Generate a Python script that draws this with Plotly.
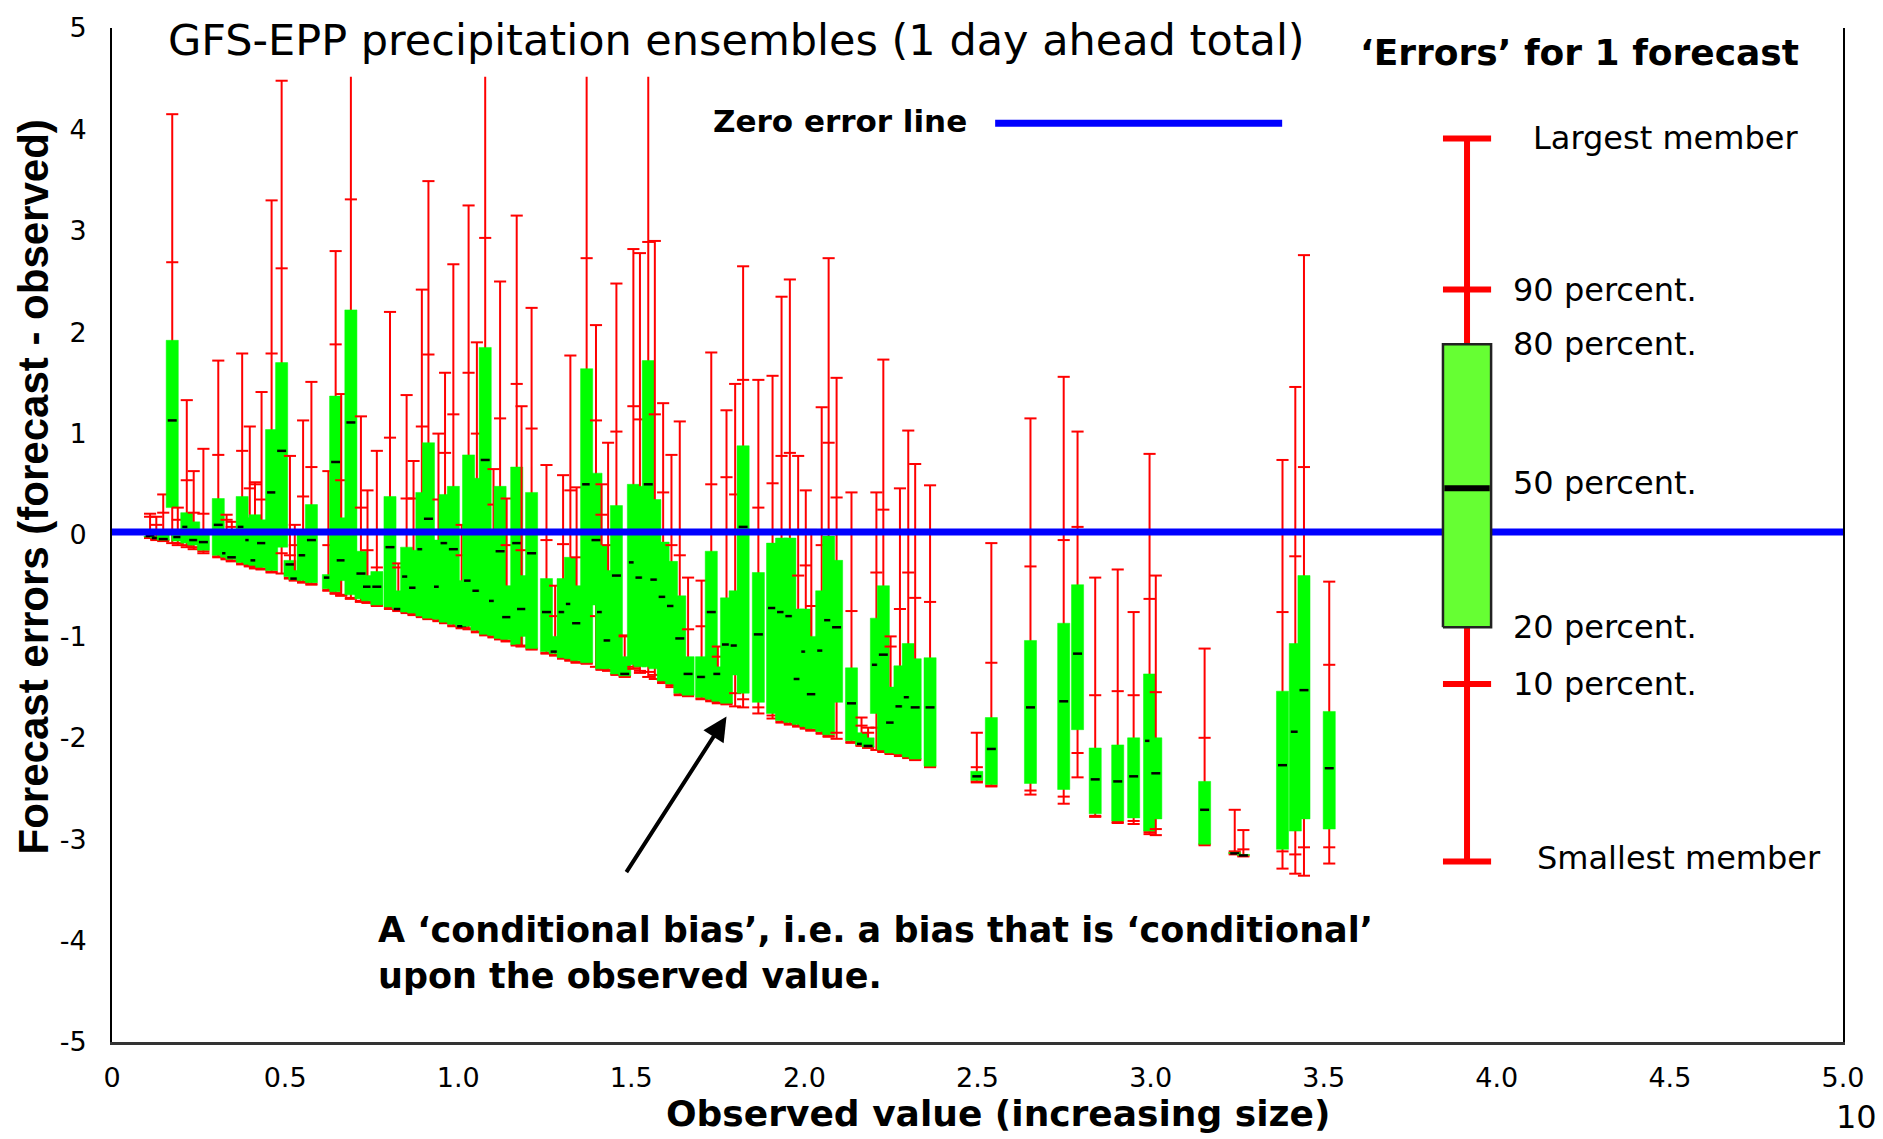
import plotly.graph_objects as go

# ---------------- data ----------------
OBSERVED = [0.110, 0.128, 0.148, 0.174, 0.190, 0.216, 0.236, 0.264, 0.307, 0.331,
            0.346, 0.376, 0.398, 0.413, 0.432, 0.461, 0.490, 0.514, 0.528, 0.552,
            0.576, 0.625, 0.646, 0.662, 0.690, 0.719, 0.738, 0.765, 0.803, 0.827,
            0.851, 0.871, 0.895, 0.914, 0.943, 0.962, 0.986, 1.010, 1.030, 1.054,
            1.078, 1.102, 1.121, 1.140, 1.169, 1.183, 1.212, 1.255, 1.280, 1.303,
            1.324, 1.342, 1.371, 1.398, 1.414, 1.433, 1.457, 1.481, 1.506, 1.525,
            1.549, 1.568, 1.592, 1.616, 1.640, 1.664, 1.703, 1.731, 1.750, 1.775,
            1.800, 1.823, 1.867, 1.908, 1.934, 1.958, 1.982, 2.004, 2.020, 2.050,
            2.070, 2.093, 2.136, 2.165, 2.184, 2.208, 2.228, 2.249, 2.276, 2.300,
            2.320, 2.363, 2.498, 2.540, 2.653, 2.749, 2.789, 2.840, 2.905, 2.951,
            2.997, 3.015, 3.156, 3.243, 3.268, 3.381, 3.418, 3.443, 3.516]

ERR_MIN = [-0.03, -0.05, -0.06, -0.08, -0.10, -0.12, -0.14, -0.18, -0.22, -0.24,
           -0.26, -0.29, -0.31, -0.33, -0.34, -0.37, -0.38, -0.43, -0.45, -0.47,
           -0.49, -0.55, -0.58, -0.60, -0.63, -0.66, -0.67, -0.70, -0.73, -0.75,
           -0.77, -0.79, -0.81, -0.83, -0.85, -0.87, -0.90, -0.92, -0.93, -0.96,
           -0.99, -1.01, -1.03, -1.05, -1.09, -1.10, -1.13, -1.17, -1.19, -1.22,
           -1.24, -1.26, -1.27, -1.30, -1.33, -1.34, -1.38, -1.40, -1.32, -1.36,
           -1.40, -1.42, -1.46, -1.50, -1.58, -1.59, -1.62, -1.64, -1.66, -1.67,
           -1.69, -1.70, -1.76, -1.81, -1.85, -1.87, -1.89, -1.91, -1.93, -1.96,
           -1.99, -2.01, -2.05, -2.08, -2.10, -2.12, -2.14, -2.16, -2.18, -2.20,
           -2.22, -2.29, -2.44, -2.48, -2.56, -2.65, -2.39, -2.78, -2.84, -2.85,
           -2.95, -2.96, -3.06, -3.15, -3.17, -3.29, -3.34, -3.36, -3.24]

ERR_P10 = [-0.02, -0.04, -0.05, 0.05, -0.08, -0.10, -0.12, -0.16, -0.21, -0.23,
           -0.25, -0.28, -0.30, -0.32, -0.33, -0.36, -0.18, -0.42, -0.44, -0.46,
           -0.48, -0.54, -0.57, -0.59, -0.62, -0.65, -0.66, -0.69, -0.72, -0.74,
           -0.76, -0.78, -0.80, -0.82, -0.84, -0.86, -0.89, -0.91, -0.92, -0.95,
           -0.98, -1.00, -1.02, -1.04, -1.08, -1.09, -1.12, -1.16, -1.18, -1.21,
           -1.23, -1.25, -1.26, -0.80, -1.32, -1.33, -1.37, -1.39, -1.30, -1.34,
           -1.35, -1.38, -1.45, -1.48, -1.57, -1.58, -1.61, -1.63, -1.65, -1.66,
           -1.56, -1.62, -1.70, -1.78, -1.84, -1.86, -1.88, -1.90, -1.92, -1.95,
           -1.98, -1.95, -2.04, -2.07, -2.09, -1.90, -2.13, -2.15, -2.17, -2.19,
           -2.21, -2.28, -2.43, -2.47, -2.52, -2.58, -2.15, -2.77, -2.83, -2.82,
           -2.93, -2.90, -3.05, -3.14, -3.16, -3.12, -3.15, -3.08, -3.08]

ERR_P20 = [-0.02, -0.03, -0.05, 0.27, -0.06, -0.08, -0.10, -0.15, -0.20, -0.22,
           -0.24, -0.27, -0.29, -0.30, -0.32, -0.35, -0.12, -0.41, -0.44, -0.45,
           -0.47, -0.53, -0.56, -0.45, -0.59, -0.63, -0.65, -0.69, -0.71, -0.73,
           -0.76, -0.77, -0.80, -0.82, -0.83, -0.86, -0.88, -0.90, -0.90, -0.94,
           -0.98, -0.99, -1.02, -1.03, -1.08, -1.00, -1.12, -1.15, -1.17, -1.21,
           -1.22, -1.24, -1.26, -0.69, -1.32, -1.32, -1.37, -1.39, -1.28, -1.30,
           -1.30, -1.32, -1.44, -1.47, -1.56, -1.58, -1.60, -1.62, -1.64, -1.66,
           -1.38, -1.56, -1.65, -1.76, -1.83, -1.85, -1.87, -1.89, -1.91, -1.94,
           -1.97, -1.65, -2.03, -2.07, -2.09, -1.76, -2.12, -2.15, -2.16, -2.19,
           -2.21, -2.28, -2.42, -2.46, -2.45, -2.51, -1.92, -2.75, -2.82, -2.79,
           -2.92, -2.80, -3.05, -3.14, -3.16, -3.10, -2.92, -2.80, -2.90]

ERR_P50 = [-0.01, -0.03, -0.04, 1.13, -0.02, 0.08, -0.05, -0.07, 0.10, -0.18,
           -0.22, 0.08, -0.05, -0.25, -0.08, 0.42, 0.83, -0.29, -0.43, -0.20,
           -0.05, -0.42, 0.72, -0.25, 1.11, -0.38, -0.51, -0.51, -0.12, -0.73,
           -0.41, -0.52, -0.14, 0.16, -0.51, -0.08, -0.14, -0.90, -0.45, -0.55,
           0.74, -0.65, -0.16, -0.81, -0.08, -0.73, -0.18, -0.76, -1.15, -0.76,
           -0.68, -0.87, 0.50, -0.05, -0.76, -1.04, -0.40, -1.37, -0.27, -0.42,
           0.50, -0.44, -0.61, -0.70, -1.02, -1.37, -1.40, -0.76, -1.37, -1.08,
           -1.09, 0.08, -0.98, -0.72, -0.76, -0.80, -1.42, -1.15, -1.57, -1.14,
           -0.84, -0.91, -1.66, -2.06, -2.08, -1.28, -1.18, -1.85, -1.69, -1.60,
           -1.70, -1.70, -2.38, -2.11, -1.70, -1.64, -1.17, -2.41, -2.43, -2.38,
           -2.03, -2.35, -2.71, -3.14, -3.16, -2.27, -1.94, -1.53, -2.30]

ERR_P80 = [-0.01, -0.02, 0.05, 1.92, 0.05, 0.22, 0.13, 0.03, 0.36, 0.05,
           0.00, 0.38, 0.17, 0.20, 0.15, 1.04, 1.70, -0.25, -0.35, 0.05,
           0.30, -0.39, 1.37, 0.17, 2.22, -0.16, -0.40, -0.36, 0.38, -0.55,
           -0.12, -0.15, 0.42, 0.91, -0.05, 0.40, 0.48, -0.45, 0.79, 0.56,
           1.85, 0.00, 0.48, -0.50, 0.67, -0.40, 0.42, -0.43, -1.00, -0.43,
           -0.22, -0.50, 1.64, 0.61, -0.10, -0.35, 0.29, -1.20, 0.50, 0.48,
           1.72, 0.35, -0.07, -0.26, -0.60, -1.20, -1.20, -0.16, -1.30, -0.62,
           -0.55, 0.88, -0.37, -0.08, -0.03, -0.03, -0.73, -0.73, -1.00, -0.55,
           -0.01, -0.25, -1.31, -1.95, -2.00, -0.82, -0.50, -1.50, -1.29, -1.07,
           -1.22, -1.21, -2.33, -1.80, -1.04, -0.87, -0.49, -2.10, -2.07, -2.00,
           -1.37, -2.00, -2.43, -3.13, -3.15, -1.54, -1.07, -0.40, -1.74]

ERR_P90 = [0.18, 0.10, 0.22, 2.69, 0.15, 0.54, 0.22, 0.21, 0.79, 0.15,
           0.08, 0.83, 0.46, 0.50, 0.35, 1.79, 2.63, -0.20, -0.10, 0.38,
           0.67, -0.10, 1.88, 0.54, 3.31, 0.27, -0.15, -0.32, 0.96, -0.32,
           0.36, 0.36, 1.07, 1.78, 0.35, 0.81, 1.19, -0.20, 1.60, 1.00,
           2.93, 0.30, 1.15, -0.10, 1.49, -0.15, 1.05, -0.05, -0.80, -0.09,
           0.44, -0.22, 2.73, 1.13, 0.20, -0.10, 1.02, -1.00, 1.27, 1.14,
           2.89, 1.19, 0.42, -0.10, -0.20, -0.93, -0.90, 0.50, -1.20, 0.57,
           0.40, 1.53, 0.27, 0.51, 0.78, 0.81, -0.40, -0.30, -0.70, -0.10,
           0.91, 0.37, -0.75, -1.88, -1.95, -0.37, 0.25, -1.10, -0.73, -0.37,
           -0.62, -0.66, -2.29, -1.26, -0.31, -0.05, 0.08, -1.58, -1.54, -1.58,
           -0.63, -1.55, -2.00, -3.12, -3.10, -0.76, -0.21, 0.67, -1.28]

# members above the visible window (lines leave the chart at its top)
ERR_MAX = [0.21, 0.18, 0.40, 4.15, 0.27, 1.33, 0.63, 0.85, 1.72, 0.20,
           0.13, 1.79, 1.07, 0.52, 1.41, 3.30, 4.48, 0.78, 0.10, 1.13,
           1.51, 0.63, 2.80, 1.39, 5.60, 1.17, 0.44, 0.83, 2.20, -0.28,
           1.38, 0.73, 2.42, 3.49, 1.00, 1.60, 2.67, 0.10, 3.25, 1.90,
           5.40, 0.65, 2.50, 0.36, 3.15, 1.27, 2.24, 0.69, -0.50, 0.59,
           1.77, 0.47, 5.30, 2.07, 0.50, 0.91, 2.48, -0.99, 2.82, 2.78,
           5.80, 2.90, 1.30, 0.79, 1.12, -0.42, -0.45, 1.80, -1.10, 1.23,
           1.49, 2.65, 1.53, 1.57, 2.35, 2.52, 0.78, 0.44, 0.05, 1.26,
           2.73, 1.55, 0.42, -1.80, -1.90, 0.42, 1.73, -1.00, 0.46, 1.03,
           0.70, 0.49, -1.95, -0.08, 1.15, 1.56, 1.02, -0.42, -0.34, -0.76,
           0.80, -0.40, -1.12, -2.71, -2.91, 0.74, 1.46, 2.76, -0.46]

# Legend ("Errors for 1 forecast") example ensemble
LEGEND_X = 3.914
LEGEND_STATS = {"min": -3.22, "p10": -1.47, "p20": -0.91, "p50": 0.46,
                "p80": 1.88, "p90": 2.42, "max": 3.91}
LEGEND_LABELS = ["Largest member", "90 percent.", "80 percent.", "50 percent.",
                 "20 percent.", "10 percent.", "Smallest member"]

X_TICKS = [0, 0.5, 1.0, 1.5, 2.0, 2.5, 3.0, 3.5, 4.0, 4.5, 5.0]
X_TICKTEXT = ["0", "0.5", "1.0", "1.5", "2.0", "2.5", "3.0", "3.5", "4.0", "4.5", "5.0"]
Y_TICKS = [-5, -4, -3, -2, -1, 0, 1, 2, 3, 4, 5]
Y_TICKTEXT = ["-5", "-4", "-3", "-2", "-1", "0", "1", "2", "3", "4", "5"]

ZERO_ERROR = 0.03
LEGEND_LINE_X = [2.551, 3.380]
LEGEND_LINE_Y = 4.06

# ---------------- style ----------------
BOX_W = 0.035
CAP_W = 0.035
MED_W = 0.026
CLIP_TOP = 4.52
LEG_W = 0.139
RED = "#FF0000"
GREEN = "#00FF00"
REG = "DejaVu Sans, Liberation Sans, Arial, sans-serif"
BOLD_ARIAL = "Liberation Sans, Arial, sans-serif"

fig = go.Figure()

for i, x in enumerate(OBSERVED):
    lo, hi = ERR_MIN[i], ERR_MAX[i]
    top = min(hi, CLIP_TOP)
    rx = [x, x, None]
    ry = [lo, top, None]
    caps = [lo, ERR_P10[i], ERR_P90[i]]
    if hi <= CLIP_TOP:
        caps.append(hi)
    for c in caps:
        rx += [x - CAP_W / 2, x + CAP_W / 2, None]
        ry += [c, c, None]
    fig.add_trace(go.Scatter(x=rx, y=ry, mode="lines",
                             line=dict(color=RED, width=2), hoverinfo="skip"))
    fig.add_trace(go.Scatter(
        x=[x - BOX_W / 2, x + BOX_W / 2, x + BOX_W / 2, x - BOX_W / 2, x - BOX_W / 2],
        y=[ERR_P20[i], ERR_P20[i], ERR_P80[i], ERR_P80[i], ERR_P20[i]],
        mode="lines", fill="toself", fillcolor=GREEN,
        line=dict(color=GREEN, width=0.5), hoverinfo="skip"))
    fig.add_trace(go.Scatter(x=[x - MED_W / 2, x + MED_W / 2], y=[ERR_P50[i]] * 2,
                             mode="lines", line=dict(color="black", width=2.5),
                             hoverinfo="skip"))

# zero error line
fig.add_trace(go.Scatter(x=[0, 5], y=[ZERO_ERROR, ZERO_ERROR], mode="lines",
                         line=dict(color="#0000FF", width=7), hoverinfo="skip"))
# legend sample of the zero-error line
fig.add_trace(go.Scatter(x=LEGEND_LINE_X, y=[LEGEND_LINE_Y] * 2, mode="lines",
                         line=dict(color="#0000FF", width=7), hoverinfo="skip"))

# legend example ensemble
s = LEGEND_STATS
lx, ly = [LEGEND_X, LEGEND_X, None], [s["min"], s["max"], None]
for k in ["min", "p10", "p90", "max"]:
    lx += [LEGEND_X - LEG_W / 2, LEGEND_X + LEG_W / 2, None]
    ly += [s[k], s[k], None]
fig.add_trace(go.Scatter(x=lx, y=ly, mode="lines", line=dict(color=RED, width=6),
                         hoverinfo="skip"))
fig.add_trace(go.Scatter(
    x=[LEGEND_X - LEG_W / 2, LEGEND_X + LEG_W / 2, LEGEND_X + LEG_W / 2,
       LEGEND_X - LEG_W / 2, LEGEND_X - LEG_W / 2],
    y=[s["p20"], s["p20"], s["p80"], s["p80"], s["p20"]],
    mode="lines", fill="toself", fillcolor="#66FF33",
    line=dict(color="#222222", width=2.5), hoverinfo="skip"))
fig.add_trace(go.Scatter(x=[LEGEND_X - LEG_W / 2 + 0.004, LEGEND_X + LEG_W / 2 - 0.004],
                         y=[s["p50"]] * 2, mode="lines",
                         line=dict(color="black", width=6), hoverinfo="skip"))

# ---------------- annotations ----------------
ann = []
def txt(text, x, y, size, family=REG, xanchor="left", yanchor="middle", **kw):
    ann.append(dict(text=text, x=x, y=y, xref="paper", yref="paper",
                    showarrow=False, xanchor=xanchor, yanchor=yanchor,
                    font=dict(family=family, size=size, color="black"), **kw))

txt("GFS-EPP precipitation ensembles (1 day ahead total)", 0.0312, 0.9883, 43)
txt("<b>Zero error line</b>", 0.346, 0.9084, 31)
txt("<b>‘Errors’ for 1 forecast</b>", 0.9757, 0.9756, 36, xanchor="right")
leg_pos = [(0.8198, 0.8918), (0.8082, 0.7417), (0.8082, 0.6881), (0.8082, 0.5517),
           (0.8082, 0.4094), (0.8082, 0.3528), (0.8221, 0.1813)]
for lab, (px, py) in zip(LEGEND_LABELS, leg_pos):
    txt(lab, px, py, 32)
txt("<b>A ‘conditional bias’, i.e. a bias that is ‘conditional’<br>upon the observed value.</b>",
    0.1525, 0.0882, 35, align="left")
txt("<b>Forecast errors (forecast - observed)</b>", -0.0451, 0.5478, 42,
    family=BOLD_ARIAL, xanchor="center", textangle=-90)
txt("<b>Observed value (increasing size)</b>", 0.5118, -0.0702, 36, xanchor="center")
txt("10", 0.9948, -0.0741, 32)

# arrow
ann.append(dict(x=1.775, y=-1.79, ax=1.483, ay=-3.34, xref="x", yref="y",
                axref="x", ayref="y", text="", showarrow=True, arrowhead=2,
                arrowsize=1.2, arrowwidth=4, arrowcolor="black"))

fig.update_layout(
    width=1883, height=1139,
    margin=dict(l=112, r=40, t=16, b=97),
    paper_bgcolor="white", plot_bgcolor="white",
    showlegend=False,
    annotations=ann,
    xaxis=dict(range=[0, 5], showgrid=False, zeroline=False, showline=True,
               linecolor="#333333", linewidth=2.5, ticks="", tickvals=X_TICKS,
               ticktext=X_TICKTEXT, tickfont=dict(family=REG, size=27, color="black"),
               ticklabelstandoff=10),
    yaxis=dict(range=[-5, 5], showgrid=False, zeroline=False, showline=True,
               mirror=True, linecolor="black", linewidth=2, ticks="",
               tickvals=Y_TICKS, ticktext=Y_TICKTEXT,
               tickfont=dict(family=REG, size=27, color="black"),
               ticklabelstandoff=18),
)

fig.write_html("out.html")
